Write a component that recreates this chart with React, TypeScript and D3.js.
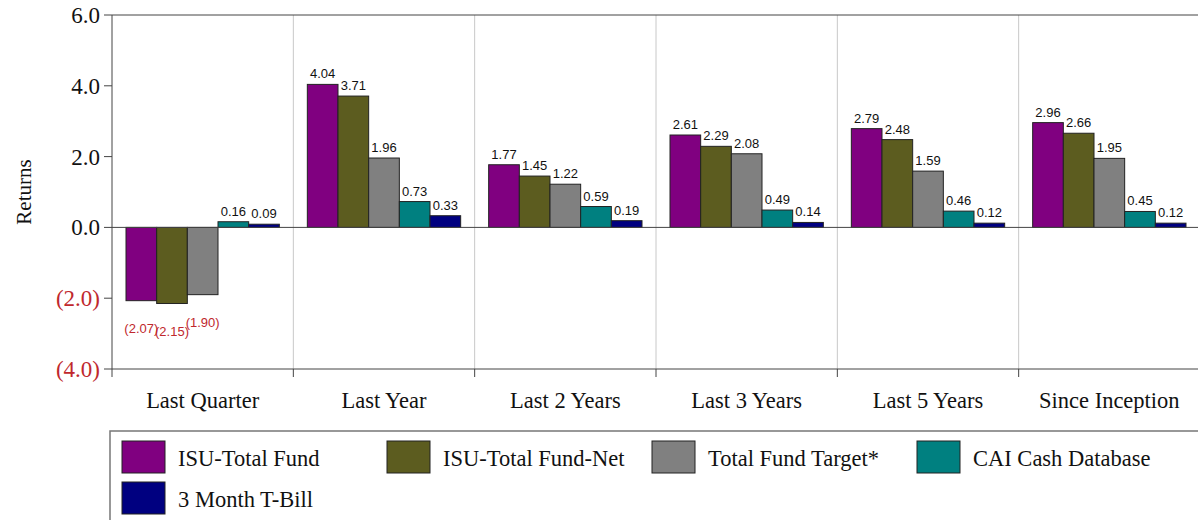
import React from "react";
import * as d3 from "d3";

const categories = ["Last Quarter", "Last Year", "Last 2 Years", "Last 3 Years", "Last 5 Years", "Since Inception"];
const seriesNames = ["ISU-Total Fund", "ISU-Total Fund-Net", "Total Fund Target*", "CAI Cash Database", "3 Month T-Bill"];
const seriesColors = ["#800080", "#5c5c1f", "#808080", "#008080", "#000080"];

const isuTotal = [-2.07, 4.04, 1.77, 2.61, 2.79, 2.96];
const isuNet = [-2.15, 3.71, 1.45, 2.29, 2.48, 2.66];
const fundTarget = [-1.9, 1.96, 1.22, 2.08, 1.59, 1.95];
const caiCash = [0.16, 0.73, 0.59, 0.49, 0.46, 0.45];
const tBill = [0.09, 0.33, 0.19, 0.14, 0.12, 0.12];
const seriesValues = [isuTotal, isuNet, fundTarget, caiCash, tBill];

const yTicks = [-4, -2, 0, 2, 4, 6];

const W = 1198;
const H = 520;
const margin = { left: 112, right: 0, top: 15, bottom: 151 };
const serif = "'Liberation Serif', 'Times New Roman', serif";
const sans = "'Liberation Sans', Arial, sans-serif";
const red = "#c0282d";

const fmtTick = (v: number) => (v < 0 ? `(${Math.abs(v).toFixed(1)})` : v.toFixed(1));
const fmtVal = (v: number) => (v < 0 ? `(${Math.abs(v).toFixed(2)})` : v.toFixed(2));

export default function App() {
  const x0 = d3.scaleBand<string>().domain(categories).range([margin.left, W + 2]).paddingInner(0).paddingOuter(0);
  const y = d3.scaleLinear().domain([-4, 6]).range([H - margin.bottom, margin.top]);
  const x1 = d3
    .scaleBand<number>()
    .domain(d3.range(seriesNames.length))
    .range([14, x0.bandwidth() - 14])
    .padding(0);

  const top = y(6);
  const bottom = y(-4);

  return (
    <svg width={W} height={H} style={{ position: "absolute", left: 0, top: 0, background: "#fff" }}>
      {/* category separators */}
      {categories.slice(1).map((c) => (
        <line key={c} x1={x0(c)} x2={x0(c)} y1={top} y2={bottom} stroke="#c8c8c8" strokeWidth={1} />
      ))}
      {/* frame lines */}
      <line x1={margin.left} x2={W} y1={top} y2={top} stroke="#444" />
      <line x1={margin.left} x2={W} y1={bottom} y2={bottom} stroke="#444" />
      <line x1={margin.left} x2={margin.left} y1={top} y2={bottom + 8} stroke="#444" />
      {categories.slice(1).map((c) => (
        <line key={"t" + c} x1={x0(c)} x2={x0(c)} y1={bottom} y2={bottom + 8} stroke="#444" />
      ))}

      {/* y ticks */}
      {yTicks.map((t) => (
        <g key={t}>
          <line x1={margin.left - 8} x2={margin.left} y1={y(t)} y2={y(t)} stroke="#444" />
          <text
            x={margin.left - 12}
            y={y(t)}
            dy="0.35em"
            textAnchor="end"
            fontFamily={serif}
            fontSize={23}
            fill={t < 0 ? red : "#111"}
          >
            {fmtTick(t)}
          </text>
        </g>
      ))}
      <text
        transform={`translate(31,192) rotate(-90)`}
        textAnchor="middle"
        fontFamily={serif}
        fontSize={21}
        fill="#111"
      >
        Returns
      </text>

      {/* bars */}
      {categories.map((c, ci) => (
        <g key={c} transform={`translate(${x0(c)},0)`}>
          {seriesValues.map((vals, si) => {
            const v = vals[ci];
            const bx = x1(si) as number;
            const bw = x1.bandwidth();
            const y0 = y(0);
            const yv = y(v);
            return (
              <g key={si}>
                <rect
                  x={bx}
                  y={Math.min(y0, yv)}
                  width={bw}
                  height={Math.abs(yv - y0)}
                  fill={seriesColors[si]}
                  stroke="#222"
                  strokeWidth={1}
                />
                <text
                  x={bx + bw / 2}
                  y={v < 0 ? yv + 32 : yv - 6}
                  textAnchor="middle"
                  fontFamily={sans}
                  fontSize={13}
                  fill={v < 0 ? red : "#111"}
                >
                  {fmtVal(v)}
                </text>
              </g>
            );
          })}
        </g>
      ))}

      {/* zero line */}
      <line x1={margin.left} x2={W} y1={y(0)} y2={y(0)} stroke="#444" />

      {/* category labels */}
      {categories.map((c) => (
        <text
          key={"l" + c}
          x={(x0(c) as number) + x0.bandwidth() / 2}
          y={bottom + 39}
          textAnchor="middle"
          fontFamily={serif}
          fontSize={22.5}
          fill="#111"
        >
          {c}
        </text>
      ))}

      {/* legend */}
      <rect x={110} y={431} width={W - 110 + 5} height={H} fill="#fff" stroke="#777" strokeWidth={1.5} />
      {seriesNames.map((name, i) => {
        const col = i % 4;
        const row = Math.floor(i / 4);
        const lx = 122 + col * 265;
        const ly = 441 + row * 41;
        return (
          <g key={name}>
            <rect x={lx} y={ly} width={43} height={32} fill={seriesColors[i]} stroke="#222" strokeWidth={1} />
            <text x={lx + 56} y={ly + 25} fontFamily={serif} fontSize={22.5} fill="#111">
              {name}
            </text>
          </g>
        );
      })}
    </svg>
  );
}
